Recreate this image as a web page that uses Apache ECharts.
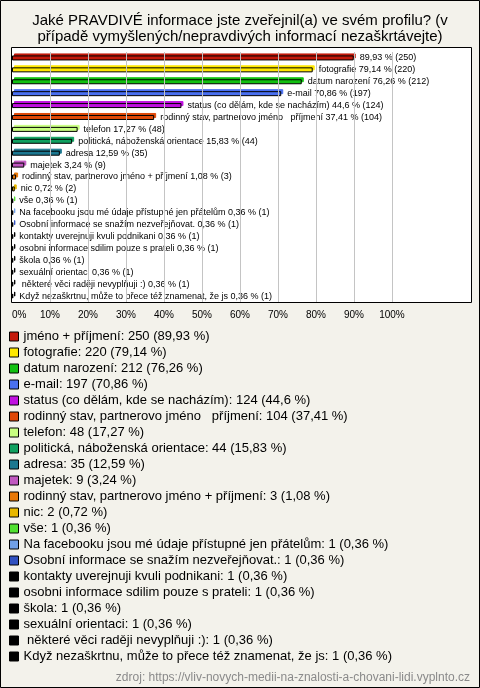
<!DOCTYPE html>
<html>
<head>
<meta charset="utf-8">
<script src="https://cdn.jsdelivr.net/npm/echarts@6/dist/echarts.min.js"></script>
<style>
html,body{margin:0;padding:0;background:#f3f2eb;}
#chart{width:480px;height:688px;}
</style>
</head>
<body>
<div id="chart"></div>
<script>
const categories = [
  "jméno + příjmení",
  "fotografie",
  "datum narození",
  "e-mail",
  "status (co dělám, kde se nacházím)",
  "rodinný stav, partnerovo jméno   příjmení",
  "telefon",
  "politická, náboženská orientace",
  "adresa",
  "majetek",
  "rodinný stav, partnerovo jméno + příjmení",
  "nic",
  "vše",
  "Na facebooku jsou mé údaje přístupné jen přátelům",
  "Osobní informace se snažím nezveřejňovat.",
  "kontakty uverejnuji kvuli podnikani",
  "osobni informace sdilim pouze s prateli",
  "škola",
  "sexuální orientaci",
  " některé věci raději nevyplňuji :)",
  "Když nezaškrtnu, může to přece též znamenat, že js"
];
const counts = [250, 220, 212, 197, 124, 104, 48, 44, 35, 9, 3, 2, 1, 1, 1, 1, 1, 1, 1, 1, 1];
const percents = [89.93, 79.14, 76.26, 70.86, 44.6, 37.41, 17.27, 15.83, 12.59, 3.24, 1.08, 0.72, 0.36, 0.36, 0.36, 0.36, 0.36, 0.36, 0.36, 0.36, 0.36];
const tickValues = [0, 10, 20, 30, 40, 50, 60, 70, 80, 90, 100];
const colors = [
  "#c41a0c", "#ffe800", "#12c012", "#4a70f0", "#c010e0", "#e04808",
  "#c8ff80", "#10a060", "#1c7890", "#c058c0", "#e87808", "#e8b800",
  "#50e030", "#70a0e8", "#3050c0", "#000000", "#000000", "#000000",
  "#000000", "#000000", "#000000"
];

const fmt = v => String(v).replace('.', ',');
const FONT = '"Liberation Sans", Arial, sans-serif';

const series = categories.map((name, i) => {
  const data = categories.map((_, j) => j === i ? percents[i] : '-');
  const s = {
    name: name,
    type: 'bar',
    stack: 'all',
    barWidth: 5,
    data: data,
    itemStyle: {
      color: colors[i],
      borderColor: '#000',
      borderWidth: 1,
      shadowColor: colors[i],
      shadowBlur: 0,
      shadowOffsetX: 2,
      shadowOffsetY: -2
    },
    label: {
      show: true,
      position: 'right',
      distance: 6,
      fontSize: 9,
      fontFamily: FONT,
      color: '#000',
      formatter: p => (i === 0 ? '' : categories[i] + ' ') + fmt(percents[i]) + ' % (' + counts[i] + ')'
    },
    emphasis: { disabled: true },
    silent: true
  };
  if (i === 0) {
    s.markLine = {
      silent: true,
      symbol: ['none', 'none'],
      label: { show: false },
      lineStyle: { color: '#c4c4c4', width: 1, type: 'solid' },
      data: tickValues.filter(v => v > 0).map(v => ({ xAxis: v }))
    };
  }
  return s;
});

const chart = echarts.init(document.getElementById('chart'), null, { renderer: 'canvas' });
chart.setOption({
  animation: false,
  backgroundColor: '#f3f2eb',
  textStyle: { fontFamily: FONT },
  title: [
    {
      text: 'Jaké PRAVDIVÉ informace jste zveřejnil(a) ve svém profilu? (v\npřípadě vymyšlených/nepravdivých informací nezaškrtávejte)',
      left: 'center',
      top: 8,
      textStyle: { fontSize: 15, fontWeight: 'normal', color: '#000', lineHeight: 16, fontFamily: FONT }
    },
    {
      text: 'zdroj: https://vliv-novych-medii-na-znalosti-a-chovani-lidi.vyplnto.cz',
      right: 5,
      top: 667,
      textStyle: { fontSize: 12, fontWeight: 'normal', color: '#8a8a8a', fontFamily: FONT }
    }
  ],
  graphic: [
    {
      type: 'rect',
      z: -10,
      shape: { x: 11.5, y: 47.5, width: 460, height: 255 },
      style: { fill: '#fff', stroke: '#000', lineWidth: 1 },
      silent: true
    },
    {
      type: 'rect',
      z: 100,
      shape: { x: 0.5, y: 0.5, width: 479, height: 687 },
      style: { fill: 'none', stroke: '#000', lineWidth: 1 },
      silent: true
    }
  ],
  grid: { left: 12, right: 9, top: 52, height: 250, containLabel: false },
  xAxis: {
    type: 'value',
    min: 0,
    max: 120.8,
    interval: 10,
    axisLine: { show: false },
    axisTick: { show: false },
    splitLine: { show: false },
    axisLabel: {
      margin: 8,
      fontSize: 10,
      color: '#000',
      fontFamily: FONT,
      alignMinLabel: 'left',
      showMaxLabel: false,
      formatter: v => tickValues.indexOf(v) >= 0 ? v + '%' : ''
    }
  },
  yAxis: {
    type: 'category',
    inverse: true,
    data: categories,
    show: false
  },
  legend: {
    orient: 'vertical',
    left: 9,
    top: 329,
    padding: 0,
    icon: 'rect',
    itemWidth: 9,
    itemHeight: 9,
    itemGap: 1,
    selectedMode: false,
    data: categories,
    itemStyle: { borderColor: '#000', borderWidth: 1, shadowBlur: 0, shadowOffsetX: 0, shadowOffsetY: 0, shadowColor: 'rgba(0,0,0,0)' },
    textStyle: { fontSize: 13, color: '#000', lineHeight: 15, fontFamily: FONT },
    formatter: name => {
      const i = categories.indexOf(name);
      return name + ': ' + counts[i] + ' (' + fmt(percents[i]) + ' %)';
    }
  },
  series: series
});
</script>
</body>
</html>
